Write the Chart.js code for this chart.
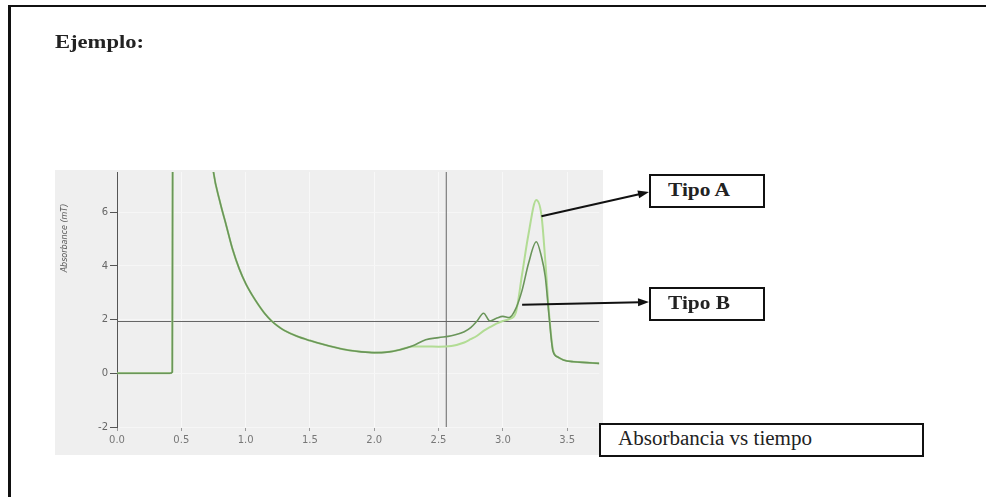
<!DOCTYPE html>
<html>
<head>
<meta charset="utf-8">
<script src="https://cdn.jsdelivr.net/npm/chart.js@4.4.1/dist/chart.umd.min.js"></script>
<style>
  html, body { margin: 0; padding: 0; background: #fff; }
  body { width: 986px; height: 497px; position: relative; overflow: hidden; }
  #page { position: absolute; left: 8px; top: 5px; right: -5px; bottom: -5px;
          border-top: 2px solid #111; border-left: 3px solid #111; }
  #plotbg { position: absolute; left: 55px; top: 170px; width: 548px; height: 285px; background: #efefef; }
  #chartWrap { position: absolute; left: 0; top: 0; width: 986px; height: 497px; }
  .txt { position: absolute; white-space: nowrap; font-family: "Liberation Serif", "DejaVu Serif", serif; color: #222; transform-origin: 0 50%; }
  .box { position: absolute; border: 2px solid #111; background: #fff; box-sizing: border-box; }
  #ytitle { position: absolute; left: 16px; top: 232px; width: 100px; height: 12px; line-height: 12px;
            text-align: center; font: italic 8px "DejaVu Sans", sans-serif; color: #555;
            transform: rotate(-90deg); transform-origin: 50% 50%; }
</style>
</head>
<body>
<div id="page"></div>
<div id="plotbg"></div>
<div id="chartWrap"><canvas id="c" width="986" height="497"></canvas></div>

<div class="txt" id="ejemplo" data-w="89" style="left:55px; top:32px; font-weight:bold; font-size:18px;">Ejemplo:</div>

<div class="box" style="left:649px; top:174px; width:116px; height:34px;"></div>
<div class="txt" data-w="62" style="left:668px; top:180px; font-weight:bold; font-size:18px;">Tipo A</div>

<div class="box" style="left:649px; top:287px; width:116px; height:34px;"></div>
<div class="txt" data-w="62" style="left:668px; top:293px; font-weight:bold; font-size:18px;">Tipo B</div>

<div class="box" style="left:599px; top:423px; width:325px; height:34px;"></div>
<div class="txt" data-w="194" style="left:618px; top:427px; font-size:20px;">Absorbancia vs tiempo</div>

<div id="ytitle">Absorbance (mT)</div>

<script>
// ---- data ----
const time  = [0, 0.2, 0.41, 0.43, 0.44, 0.55, 0.7, 0.75, 0.8, 0.85, 0.9, 0.95, 1.0, 1.05, 1.1, 1.15, 1.2, 1.25, 1.3, 1.4, 1.5, 1.6, 1.7, 1.8, 1.9, 2.0, 2.1, 2.2, 2.3, 2.4, 2.5, 2.6, 2.7, 2.75, 2.8, 2.85, 2.9, 2.95, 3.0, 3.05, 3.1, 3.15, 3.2, 3.26, 3.3, 3.33, 3.36, 3.39, 3.43, 3.47, 3.55, 3.65, 3.75];
const tipoA = [0, 0, 0, 0.05, 30, 40, 9.8, 7.5, 6.4, 5.5, 4.6, 3.9, 3.35, 2.92, 2.55, 2.22, 1.96, 1.76, 1.6, 1.38, 1.22, 1.08, 0.96, 0.86, 0.8, 0.77, 0.79, 0.88, 1.0, 1.0, 0.99, 1.02, 1.15, 1.27, 1.4, 1.58, 1.72, 1.85, 1.95, 2.02, 2.25, 3.7, 5.2, 6.46, 5.9, 4.2, 2.2, 0.88, 0.6, 0.5, 0.43, 0.4, 0.37];
const tipoB = [0, 0, 0, 0.05, 30, 40, 9.8, 7.5, 6.4, 5.5, 4.6, 3.9, 3.35, 2.92, 2.55, 2.22, 1.96, 1.76, 1.6, 1.38, 1.22, 1.08, 0.96, 0.86, 0.8, 0.77, 0.79, 0.88, 1.03, 1.25, 1.33, 1.4, 1.55, 1.7, 1.95, 2.24, 1.95, 2.05, 2.12, 2.08, 2.4, 3.1, 4.1, 4.9, 4.35, 3.6, 2.1, 0.82, 0.6, 0.5, 0.43, 0.4, 0.37];
const cursorTime = 2.56;
const cursorAbs  = 1.93;
const xTicks = [0, 0.5, 1.0, 1.5, 2.0, 2.5, 3.0, 3.5];
const yTicks = [-2, 0, 2, 4, 6];
const xRange = [0, 3.75];
const yRange = [-2, 7.5];
const arrowA = { x: 3.3,  y: 5.85 };
const arrowB = { x: 3.15, y: 2.55 };

const toPts = (ys) => time.map((t, i) => ({ x: t, y: ys[i] }));

const arrowPlugin = {
  id: 'arrows',
  afterDraw(chart) {
    const ctx = chart.ctx, xs = chart.scales.x, ys = chart.scales.y;
    const draw = (from, tx, ty) => {
      const fx = xs.getPixelForValue(from.x), fy = ys.getPixelForValue(from.y);
      const ang = Math.atan2(ty - fy, tx - fx);
      ctx.save();
      ctx.strokeStyle = '#111'; ctx.fillStyle = '#111'; ctx.lineWidth = 2;
      ctx.beginPath(); ctx.moveTo(fx, fy);
      ctx.lineTo(tx - 9 * Math.cos(ang), ty - 9 * Math.sin(ang)); ctx.stroke();
      ctx.beginPath();
      ctx.moveTo(tx, ty);
      ctx.lineTo(tx - 11 * Math.cos(ang) + 4 * Math.sin(ang), ty - 11 * Math.sin(ang) - 4 * Math.cos(ang));
      ctx.lineTo(tx - 11 * Math.cos(ang) - 4 * Math.sin(ang), ty - 11 * Math.sin(ang) + 4 * Math.cos(ang));
      ctx.closePath(); ctx.fill();
      ctx.restore();
    };
    draw(arrowA, 649, 192);
    draw(arrowB, 649, 302);
  }
};

new Chart(document.getElementById('c'), {
  type: 'line',
  data: {
    datasets: [
      { label: 'Tipo B', data: toPts(tipoB), borderColor: '#6a955a', borderWidth: 1.6, order: 1,
        pointRadius: 0, cubicInterpolationMode: 'monotone', fill: false },
      { label: 'Tipo A', data: toPts(tipoA), borderColor: '#b2dc94', borderWidth: 2, order: 2,
        pointRadius: 0, cubicInterpolationMode: 'monotone', fill: false },
      { label: 'cursorV', data: [{ x: cursorTime, y: yRange[0] }, { x: cursorTime, y: yRange[1] }],
        borderColor: '#666', borderWidth: 1, pointRadius: 0, order: 3 },
      { label: 'cursorH', data: [{ x: xRange[0], y: cursorAbs }, { x: xRange[1], y: cursorAbs }],
        borderColor: '#666', borderWidth: 1, pointRadius: 0, order: 3 }
    ]
  },
  options: {
    responsive: false,
    animation: false,
    events: [],
    layout: { padding: { left: 55, top: 172, right: 386.7, bottom: 40 } },
    plugins: { legend: { display: false }, tooltip: { enabled: false }, title: { display: false } },
    scales: {
      x: {
        type: 'linear', min: xRange[0], max: xRange[1],
        afterBuildTicks: (s) => { s.ticks = xTicks.map(v => ({ value: v })); },
        afterFit: (s) => { s.height = 30; },
        border: { display: false },
        grid: { color: '#f8f8f8', tickColor: '#999', tickLength: 4, lineWidth: 1 },
        ticks: { callback: (v) => Number(v).toFixed(1), font: { family: 'DejaVu Sans', size: 10 },
                 color: '#777', padding: 3, maxRotation: 0, autoSkip: false }
      },
      y: {
        type: 'linear', min: yRange[0], max: yRange[1],
        afterBuildTicks: (s) => { s.ticks = yTicks.map(v => ({ value: v })); },
        afterFit: (s) => { s.width = 62; },
        border: { display: true, color: '#555', width: 1 },
        grid: { color: '#f6f6f6', tickColor: '#555', tickLength: 7, lineWidth: 1 },
        ticks: { font: { family: 'DejaVu Sans', size: 10 }, color: '#666', padding: 2 }
      }
    }
  },
  plugins: [arrowPlugin]
});

// fit text widths to reference
document.querySelectorAll('.txt[data-w]').forEach(el => {
  const w = el.getBoundingClientRect().width;
  const target = parseFloat(el.dataset.w);
  if (w > 0) el.style.transform = 'scaleX(' + (target / w).toFixed(3) + ')';
});
</script>
</body>
</html>
